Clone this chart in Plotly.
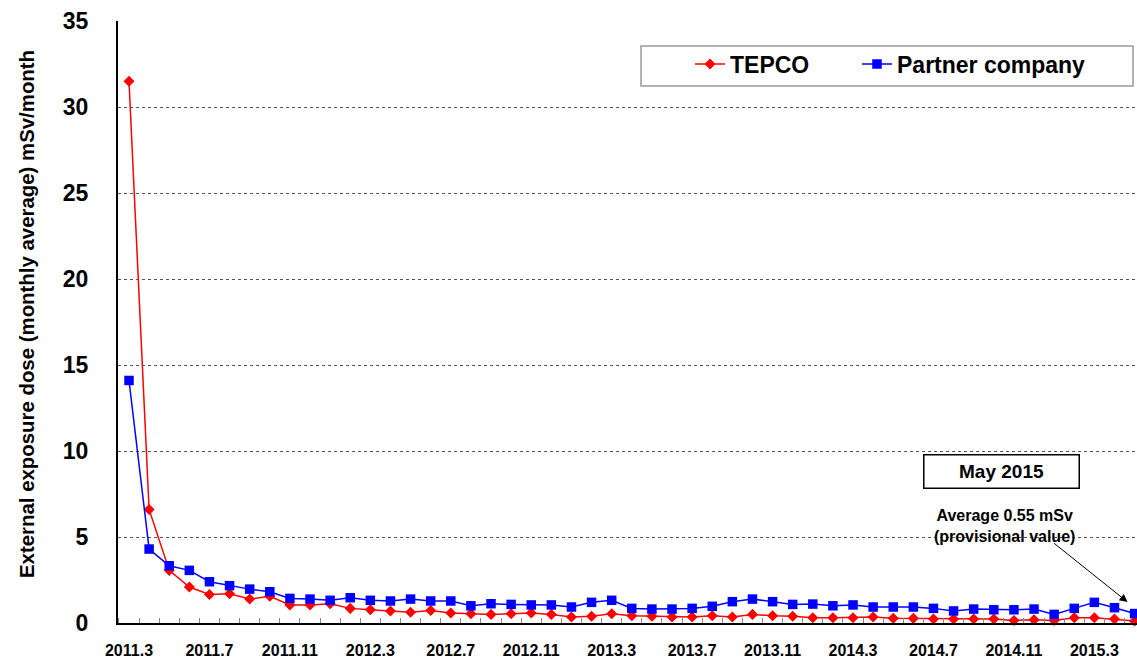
import plotly.graph_objects as go

months = [f"{y}.{m}" for y in range(2011, 2016) for m in range(1, 13)
          if (y, m) >= (2011, 3) and (y, m) <= (2015, 5)]

tepco = [31.5, 6.6, 3.06, 2.09, 1.66, 1.70, 1.39, 1.55, 1.05, 1.05, 1.12, 0.85,
         0.77, 0.70, 0.62, 0.73, 0.58, 0.54, 0.50, 0.54, 0.58, 0.50,
         0.35, 0.39, 0.54, 0.42, 0.39, 0.35, 0.35, 0.42, 0.35, 0.50, 0.42, 0.39,
         0.30, 0.31, 0.31, 0.35, 0.27, 0.27, 0.23, 0.23, 0.23, 0.23, 0.15, 0.19,
         0.15, 0.31, 0.31, 0.23, 0.12]

partner = [14.1, 4.3, 3.33, 3.06, 2.40, 2.17, 1.97, 1.82, 1.43, 1.39, 1.32, 1.47,
           1.32, 1.28, 1.39, 1.28, 1.28, 1.00, 1.12, 1.08, 1.05, 1.05,
           0.93, 1.20, 1.32, 0.85, 0.81, 0.81, 0.85, 0.97, 1.24, 1.39, 1.24, 1.08,
           1.10, 1.00, 1.05, 0.93, 0.93, 0.93, 0.85, 0.70, 0.81, 0.77, 0.77, 0.81,
           0.50, 0.85, 1.20, 0.89, 0.55]

tick_labels = ["2011.3", "2011.7", "2011.11", "2012.3", "2012.7", "2012.11",
               "2013.3", "2013.7", "2013.11", "2014.3", "2014.7", "2014.11", "2015.3"]

idx = list(range(len(months)))
tick_idx = [months.index(t) for t in tick_labels]

FONT = "Liberation Sans, Arial, sans-serif"

fig = go.Figure()
fig.add_trace(go.Scatter(
    x=idx, y=tepco, name="TEPCO", mode="lines+markers", legend="legend",
    line=dict(color="#ff0000", width=1.5), cliponaxis=False,
    marker=dict(symbol="diamond", size=8.5, color="#ff0000"),
    customdata=months, hovertemplate="%{customdata}: %{y}<extra>TEPCO</extra>"))
fig.add_trace(go.Scatter(
    x=idx, y=partner, name="Partner company", mode="lines+markers", legend="legend2",
    line=dict(color="#0000ff", width=1.5), cliponaxis=False,
    marker=dict(symbol="square", size=9.5, color="#0000ff"),
    customdata=months, hovertemplate="%{customdata}: %{y}<extra>Partner company</extra>"))

L, T, W, H = 118, 21, 1019, 602


def px(xp):
    return (xp - L) / W


def py(yp):
    return (T + H - yp) / H


legend_common = dict(orientation="h", xanchor="left", yanchor="middle",
                     bgcolor="rgba(0,0,0,0)", borderwidth=0,
                     font=dict(family=FONT, size=23, weight="bold"))

fig.update_layout(
    width=1137, height=661,
    margin=dict(l=L, r=1137 - L - W, t=T, b=661 - T - H, autoexpand=False),
    paper_bgcolor="white", plot_bgcolor="white",
    font=dict(family=FONT, color="black"),
    showlegend=True,
    legend=dict(x=px(690), y=py(64), **legend_common),
    legend2=dict(x=px(857), y=py(64), **legend_common),
    xaxis=dict(range=[-0.547, 50.12], tickmode="array", tickvals=tick_idx, ticktext=tick_labels,
               showline=True, linecolor="black", linewidth=2, showgrid=False, zeroline=False,
               ticks="", ticklabelstandoff=12, automargin=False,
               tickfont=dict(family=FONT, size=16, weight="bold"),
               minor=dict(ticks="inside", tick0=0.5, dtick=1, ticklen=5, tickcolor="#888888",
                          showgrid=False)),
    yaxis=dict(range=[0, 35], dtick=5, showline=True, linecolor="black", linewidth=2,
               showgrid=True, gridcolor="#555555", griddash="dot", gridwidth=1,
               zeroline=False, ticks="", ticklabelstandoff=23, automargin=False,
               tickfont=dict(family=FONT, size=23, weight="bold")),
    shapes=[
        dict(type="rect", xref="paper", yref="paper",
             x0=px(641), x1=px(1133), y0=py(86), y1=py(46),
             line=dict(color="#999999", width=1.5), fillcolor="rgba(0,0,0,0)"),
    ],
    annotations=[
        dict(text="External exposure dose (monthly average) mSv/month", textangle=-90,
             xref="paper", yref="paper", x=px(27), y=py(314), showarrow=False,
             font=dict(family=FONT, size=20.4, weight="bold"), xanchor="center", yanchor="middle"),
        dict(text="May 2015", xref="paper", yref="paper", x=px(1001), y=py(471),
             xanchor="center", yanchor="middle",
             showarrow=False, width=150, height=28, borderpad=2, bordercolor="black", borderwidth=1.5,
             bgcolor="white", font=dict(family=FONT, size=19, weight="bold")),
        dict(text="Average 0.55 mSv<br>(provisional value)", xref="paper", yref="paper",
             x=px(1004), y=py(526), showarrow=False, xanchor="center", yanchor="middle",
             font=dict(family=FONT, size=16, weight="bold")),
        dict(text="", x=49.65, y=1.22, xref="x", yref="y", showarrow=True,
             ax=-75, ay=-60, arrowhead=2, arrowsize=1.6, arrowwidth=1, arrowcolor="black"),
    ],
)

fig.write_html("out.html", config={"displayModeBar": False},
               post_script="document.body.style.margin='0px';document.body.style.padding='0px';")
